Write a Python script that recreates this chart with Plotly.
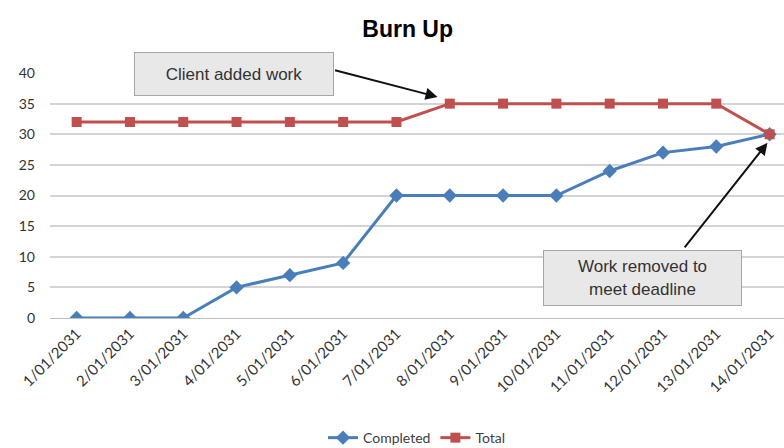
import plotly.graph_objects as go

dates = ["1/01/2031", "2/01/2031", "3/01/2031", "4/01/2031", "5/01/2031",
         "6/01/2031", "7/01/2031", "8/01/2031", "9/01/2031", "10/01/2031",
         "11/01/2031", "12/01/2031", "13/01/2031", "14/01/2031"]
completed = [0, 0, 0, 5, 7, 9, 20, 20, 20, 20, 24, 27, 28, 30]
total = [32, 32, 32, 32, 32, 32, 32, 35, 35, 35, 35, 35, 35, 30]
y_ticks = [0, 5, 10, 15, 20, 25, 30, 35, 40]

blue = "#4a7ebb"
red = "#c0504d"

fig = go.Figure()
fig.add_trace(go.Scatter(
    x=dates, y=completed, name="Completed", mode="lines+markers",
    line=dict(color=blue, width=3),
    marker=dict(symbol="diamond", size=11, color=blue),
))
fig.add_trace(go.Scatter(
    x=dates, y=total, name="Total", mode="lines+markers",
    line=dict(color=red, width=3),
    marker=dict(symbol="square", size=10, color=red),
))

box_style = dict(showarrow=False, bgcolor="#e8e8e8", bordercolor="#a6a6a6",
                 borderwidth=1, font=dict(family="Liberation Sans", size=17, color="#333333"))

# callout boxes
fig.add_annotation(x=2.95, y=39.8, text="Client added work", width=196, height=40, **box_style)
fig.add_annotation(x=10.62, y=6.5, text="Work removed to<br>meet deadline", width=195, height=52, **box_style)

# callout arrows
arrow_style = dict(text="", showarrow=True, arrowhead=2, arrowsize=1.2,
                   arrowwidth=2, arrowcolor="#111111", axref="pixel", ayref="pixel")
fig.add_annotation(x=6.77, y=36.1, ax=-104, ay=-27, **arrow_style)
fig.add_annotation(x=12.96, y=28.6, ax=-84, ay=106, **arrow_style)

fig.update_layout(
    width=784, height=448,
    margin=dict(l=50, r=0, t=73, b=130, autoexpand=False),
    paper_bgcolor="white", plot_bgcolor="white",
    title=dict(text="<b>Burn Up</b>", x=0.52, xanchor="center", y=0.935, yanchor="middle",
               font=dict(family="Liberation Sans", size=23, color="#000000")),
    font=dict(family="Lato", size=14, color="#333333"),
    showlegend=True,
    legend=dict(orientation="h", x=0.5, xanchor="center", y=-0.49, yanchor="middle",
                font=dict(family="Lato", size=14, color="#404040")),
    xaxis=dict(
        type="category", range=[-0.5, 13.27], tickangle=-45, automargin=False,
        showgrid=False, showline=True, linecolor="#bfbfbf", linewidth=1,
        ticks="", tickfont=dict(family="Lato", size=15, color="#333333"),
    ),
    yaxis=dict(
        range=[0, 40], tickvals=y_ticks, showgrid=True, gridcolor="#d4d4d4", gridwidth=2,
        zeroline=False, showline=False, ticks="", ticklabelstandoff=14, automargin=False,
        tickfont=dict(family="Lato", size=14, color="#333333"),
    ),
)

fig.write_html("out.html")
